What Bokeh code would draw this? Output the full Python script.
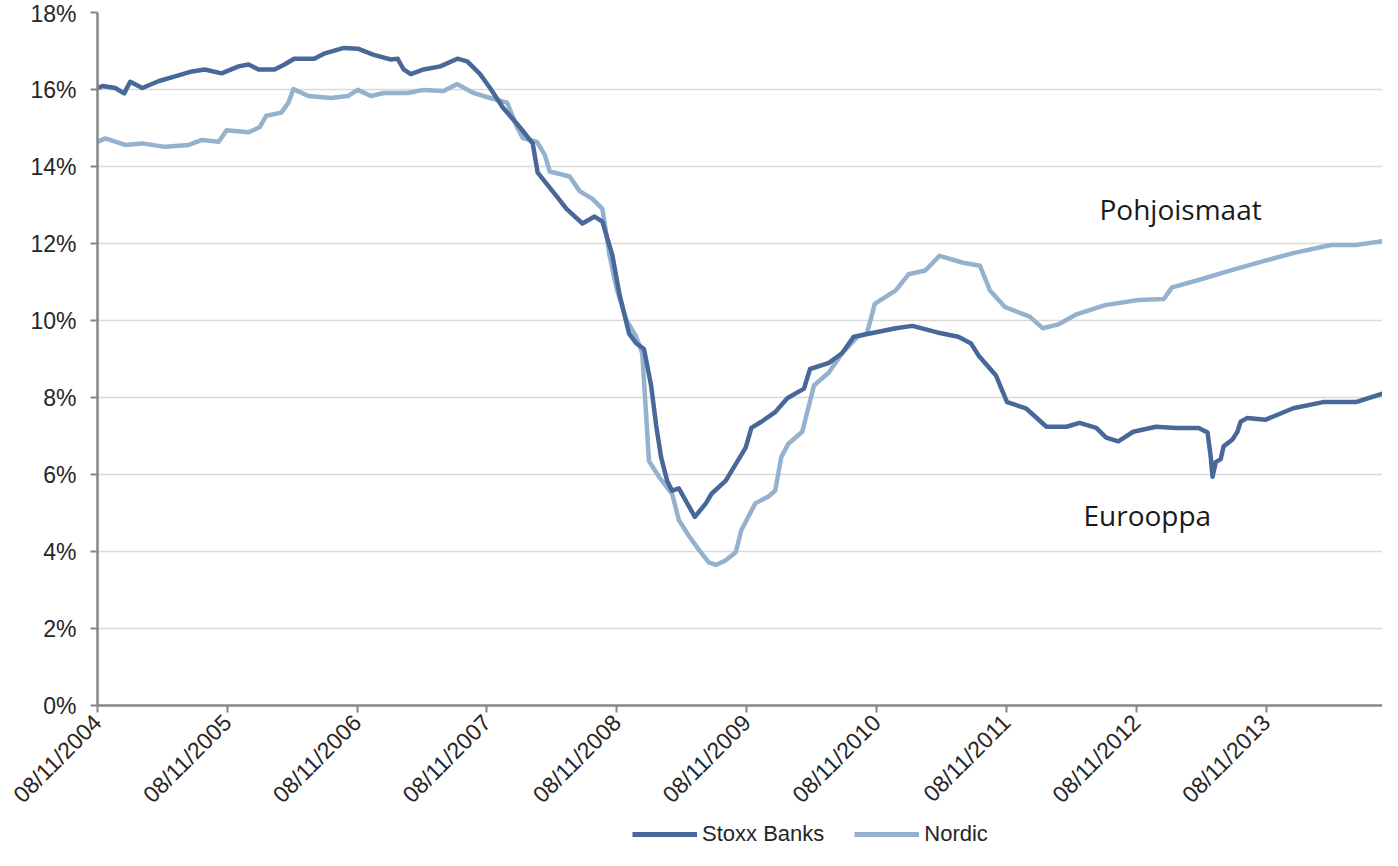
import math
import pandas as pd
from bokeh.plotting import figure
from bokeh.layouts import column
from bokeh.models import (ColumnDataSource, FixedTicker, PrintfTickFormatter,
                          DatetimeTickFormatter, Legend, Range1d)
from bokeh.core.properties import value
from bokeh.embed import file_html
from bokeh.resources import INLINE

# ---------------- data ----------------
banks_dates = [
    "2004-11-08", "2004-11-22", "2004-12-28", "2005-01-22", "2005-02-08", "2005-03-14",
    "2005-04-30", "2005-06-14", "2005-08-01", "2005-09-06", "2005-10-23", "2005-12-10",
    "2006-01-07", "2006-02-04", "2006-03-21", "2006-04-18", "2006-05-15", "2006-07-10",
    "2006-08-07", "2006-10-02", "2006-11-10", "2006-12-25", "2007-02-11", "2007-03-02",
    "2007-03-19", "2007-04-08", "2007-05-14", "2007-06-30", "2007-08-17", "2007-09-14",
    "2007-10-20", "2007-11-17", "2007-12-23", "2008-02-09", "2008-03-16", "2008-03-30",
    "2008-05-22", "2008-06-19", "2008-08-03", "2008-09-06", "2008-09-28", "2008-10-26",
    "2008-11-15", "2008-12-12", "2009-01-01", "2009-01-23", "2009-02-12", "2009-02-26",
    "2009-03-12", "2009-03-29", "2009-04-12", "2009-05-01", "2009-05-29", "2009-06-15",
    "2009-07-16", "2009-08-01", "2009-09-10", "2009-10-08", "2009-11-05", "2009-11-21",
    "2009-12-19", "2010-01-27", "2010-03-02", "2010-04-18", "2010-05-05", "2010-06-27",
    "2010-08-03", "2010-09-05", "2010-11-03", "2011-01-01", "2011-02-17", "2011-04-28",
    "2011-06-26", "2011-08-01", "2011-08-23", "2011-10-10", "2011-11-10", "2012-01-02",
    "2012-02-29", "2012-04-25", "2012-06-01", "2012-07-18", "2012-08-15", "2012-09-18",
    "2012-10-30", "2013-01-02", "2013-02-27", "2013-05-02", "2013-05-27", "2013-06-05",
    "2013-06-10", "2013-06-19", "2013-07-03", "2013-07-11", "2013-08-05", "2013-08-19",
    "2013-08-28", "2013-09-16", "2013-11-05", "2014-01-23", "2014-04-17", "2014-07-18",
    "2014-10-01",
]
banks_values = [
    16.04, 16.09, 16.04, 15.90, 16.20, 16.04,
    16.22, 16.34, 16.47, 16.52, 16.42, 16.60,
    16.65, 16.52, 16.52, 16.65, 16.80, 16.80,
    16.93, 17.08, 17.06, 16.90, 16.78, 16.80,
    16.52, 16.40, 16.52, 16.60, 16.80, 16.73,
    16.40, 16.04, 15.53, 15.02, 14.60, 13.84,
    13.23, 12.90, 12.52, 12.70, 12.57, 11.70,
    10.68, 9.66, 9.41, 9.26, 8.31, 7.29,
    6.45, 5.84, 5.58, 5.64, 5.18, 4.90,
    5.25, 5.50, 5.84, 6.27, 6.70, 7.21,
    7.37, 7.62, 7.98, 8.23, 8.74, 8.90,
    9.15, 9.58, 9.69, 9.80, 9.86, 9.69,
    9.58, 9.40, 9.08, 8.57, 7.88, 7.72,
    7.24, 7.24, 7.34, 7.21, 6.96, 6.86,
    7.11, 7.24, 7.21, 7.21, 7.09, 6.45,
    5.94, 6.32, 6.40, 6.73, 6.91, 7.11,
    7.37, 7.47, 7.42, 7.72, 7.88, 7.88,
    8.10,
]

nordic_dates = [
    "2004-11-08", "2004-11-30", "2005-01-25", "2005-03-14", "2005-05-17", "2005-07-23",
    "2005-08-29", "2005-10-15", "2005-11-06", "2006-01-07", "2006-02-07", "2006-02-26",
    "2006-04-09", "2006-04-29", "2006-05-13", "2006-06-24", "2006-08-27", "2006-10-13",
    "2006-11-10", "2006-12-17", "2007-01-22", "2007-03-30", "2007-05-14", "2007-07-09",
    "2007-08-17", "2007-10-01", "2007-11-17", "2008-01-04", "2008-02-01", "2008-02-17",
    "2008-03-28", "2008-04-19", "2008-05-03", "2008-06-28", "2008-07-26", "2008-08-31",
    "2008-09-28", "2008-10-18", "2008-11-06", "2008-12-04", "2009-01-01", "2009-01-18",
    "2009-01-29", "2009-02-06", "2009-03-06", "2009-04-12", "2009-05-01", "2009-05-29",
    "2009-06-26", "2009-07-24", "2009-08-13", "2009-09-10", "2009-10-08", "2009-10-24",
    "2009-12-02", "2010-01-08", "2010-01-27", "2010-02-13", "2010-03-05", "2010-04-13",
    "2010-04-30", "2010-05-16", "2010-06-27", "2010-08-03", "2010-09-16", "2010-10-12",
    "2010-11-03", "2011-01-01", "2011-02-06", "2011-03-25", "2011-05-04", "2011-07-10",
    "2011-08-26", "2011-09-23", "2011-11-04", "2012-01-13", "2012-02-18", "2012-04-03",
    "2012-05-21", "2012-08-12", "2012-11-13", "2013-01-24", "2013-02-16", "2013-04-27",
    "2013-07-31", "2013-11-03", "2014-01-23", "2014-05-09", "2014-07-18", "2014-10-01",
]
nordic_values = [
    14.64, 14.73, 14.56, 14.60, 14.51, 14.56,
    14.69, 14.64, 14.94, 14.89, 15.02, 15.32,
    15.40, 15.66, 16.01, 15.83, 15.78, 15.83,
    15.99, 15.83, 15.91, 15.91, 15.99, 15.96,
    16.14, 15.91, 15.78, 15.66, 15.02, 14.74,
    14.64, 14.30, 13.87, 13.74, 13.36, 13.16,
    12.90, 11.70, 10.86, 10.02, 9.58, 9.15,
    7.55, 6.35, 5.94, 5.50, 4.82, 4.41,
    4.05, 3.72, 3.65, 3.77, 3.98, 4.56,
    5.25, 5.43, 5.58, 6.45, 6.80, 7.11,
    7.72, 8.31, 8.65, 9.15, 9.58, 9.66,
    10.43, 10.78, 11.20, 11.30, 11.68, 11.50,
    11.42, 10.78, 10.35, 10.10, 9.80, 9.90,
    10.15, 10.40, 10.53, 10.56, 10.86, 11.04,
    11.30, 11.55, 11.75, 11.96, 11.96, 12.06,
]

series_names = ["Stoxx Banks", "Nordic"]
tick_dates = ["2004-11-08", "2005-11-08", "2006-11-08", "2007-11-08", "2008-11-08",
              "2009-11-08", "2010-11-08", "2011-11-08", "2012-11-08", "2013-11-08"]
y_ticks = [0, 2, 4, 6, 8, 10, 12, 14, 16, 18]
x_start, x_end = "2004-11-08", "2014-10-01"

annot_texts = ["Pohjoismaat", "Eurooppa"]
annot_dates = ["2012-07-27", "2012-06-12"]
annot_values = [12.90, 4.95]

# ---------------- styles ----------------
DARK = "#48689A"
LIGHT = "#94B1CE"
AXIS_GRAY = "#868686"
TEXT = "#262626"

def ts(s):
    return pd.Timestamp(s)

def ms(s):
    return pd.Timestamp(s).value / 1e6

p = figure(width=1382, height=820, x_axis_type="datetime",
           output_backend="svg", toolbar_location=None,
           min_border_left=97, min_border_right=0, min_border_top=12,
           min_border_bottom=0,
           x_range=Range1d(ts(x_start), ts(x_end)), y_range=Range1d(0, 18))
p.outline_line_color = None
p.background_fill_color = "white"
p.border_fill_color = "white"

src_b = ColumnDataSource(dict(x=[ts(d) for d in banks_dates], y=banks_values))
src_n = ColumnDataSource(dict(x=[ts(d) for d in nordic_dates], y=nordic_values))

r_b = p.line("x", "y", source=src_b, line_color=DARK, line_width=4.5,
             line_join="round", line_cap="round")
r_n = p.line("x", "y", source=src_n, line_color=LIGHT, line_width=4.5,
             line_join="round", line_cap="round")
# draw Stoxx Banks on top where they overlap
p.renderers = [r_n, r_b]

# annotations
src_t = ColumnDataSource(dict(x=[ts(d) for d in annot_dates], y=annot_values, text=annot_texts))
p.text("x", "y", text="text", source=src_t, text_font=value("Open Sans"),
       text_font_size="28px", text_color="#1a1a1a",
       text_baseline="alphabetic", text_align="left")

# axes
p.xgrid.grid_line_color = None
p.ygrid.grid_line_color = "#D9D9D9"
p.ygrid.grid_line_width = 1.5

p.yaxis.ticker = FixedTicker(ticks=y_ticks)
p.yaxis.formatter = PrintfTickFormatter(format="%d%%")
p.xaxis.ticker = FixedTicker(ticks=[ms(d) for d in tick_dates])
fmt = "%d/%m/%Y"
p.xaxis.formatter = DatetimeTickFormatter(
    milliseconds=fmt, seconds=fmt, minsec=fmt, minutes=fmt, hourmin=fmt,
    hours=fmt, days=fmt, months=fmt, years=fmt, context=None)
p.xaxis.major_label_orientation = math.pi / 4

for ax in (p.xaxis, p.yaxis):
    ax.axis_line_color = AXIS_GRAY
    ax.axis_line_width = 2.5
    ax.major_tick_line_color = AXIS_GRAY
    ax.major_tick_line_width = 2
    ax.major_tick_out = 7
    ax.major_tick_in = 0
    ax.minor_tick_line_color = None
    ax.major_label_text_font = "Liberation Sans"
    ax.major_label_text_font_size = "23px"
    ax.major_label_text_color = TEXT
p.yaxis.major_label_standoff = 14
p.xaxis.major_label_standoff = 6

# ---------------- legend strip under the chart ----------------
# same series drawn into a strip whose ranges hide them; only the legend shows
leg = figure(width=1382, height=30, output_backend="svg", toolbar_location=None,
             x_axis_location=None, y_axis_location=None, min_border=0,
             x_range=Range1d(0, 1), y_range=Range1d(0, 1))
leg.outline_line_color = None
leg.grid.visible = False
lb = leg.line("x", "y", source=src_b, line_color=DARK, line_width=5)
ln = leg.line("x", "y", source=src_n, line_color=LIGHT, line_width=5)
legend = Legend(items=[(series_names[0], [lb]), (series_names[1], [ln])],
                orientation="horizontal", location=(535, 3),
                label_text_font="Liberation Sans", label_text_font_size="22px",
                label_text_color=TEXT, glyph_width=65, glyph_height=20,
                spacing=30, label_standoff=5, padding=0, margin=0,
                label_height=22,
                border_line_color=None, background_fill_alpha=0)
leg.add_layout(legend, "center")

layout = column(p, leg, spacing=0)
open("out.html", "w").write(file_html(layout, INLINE))
